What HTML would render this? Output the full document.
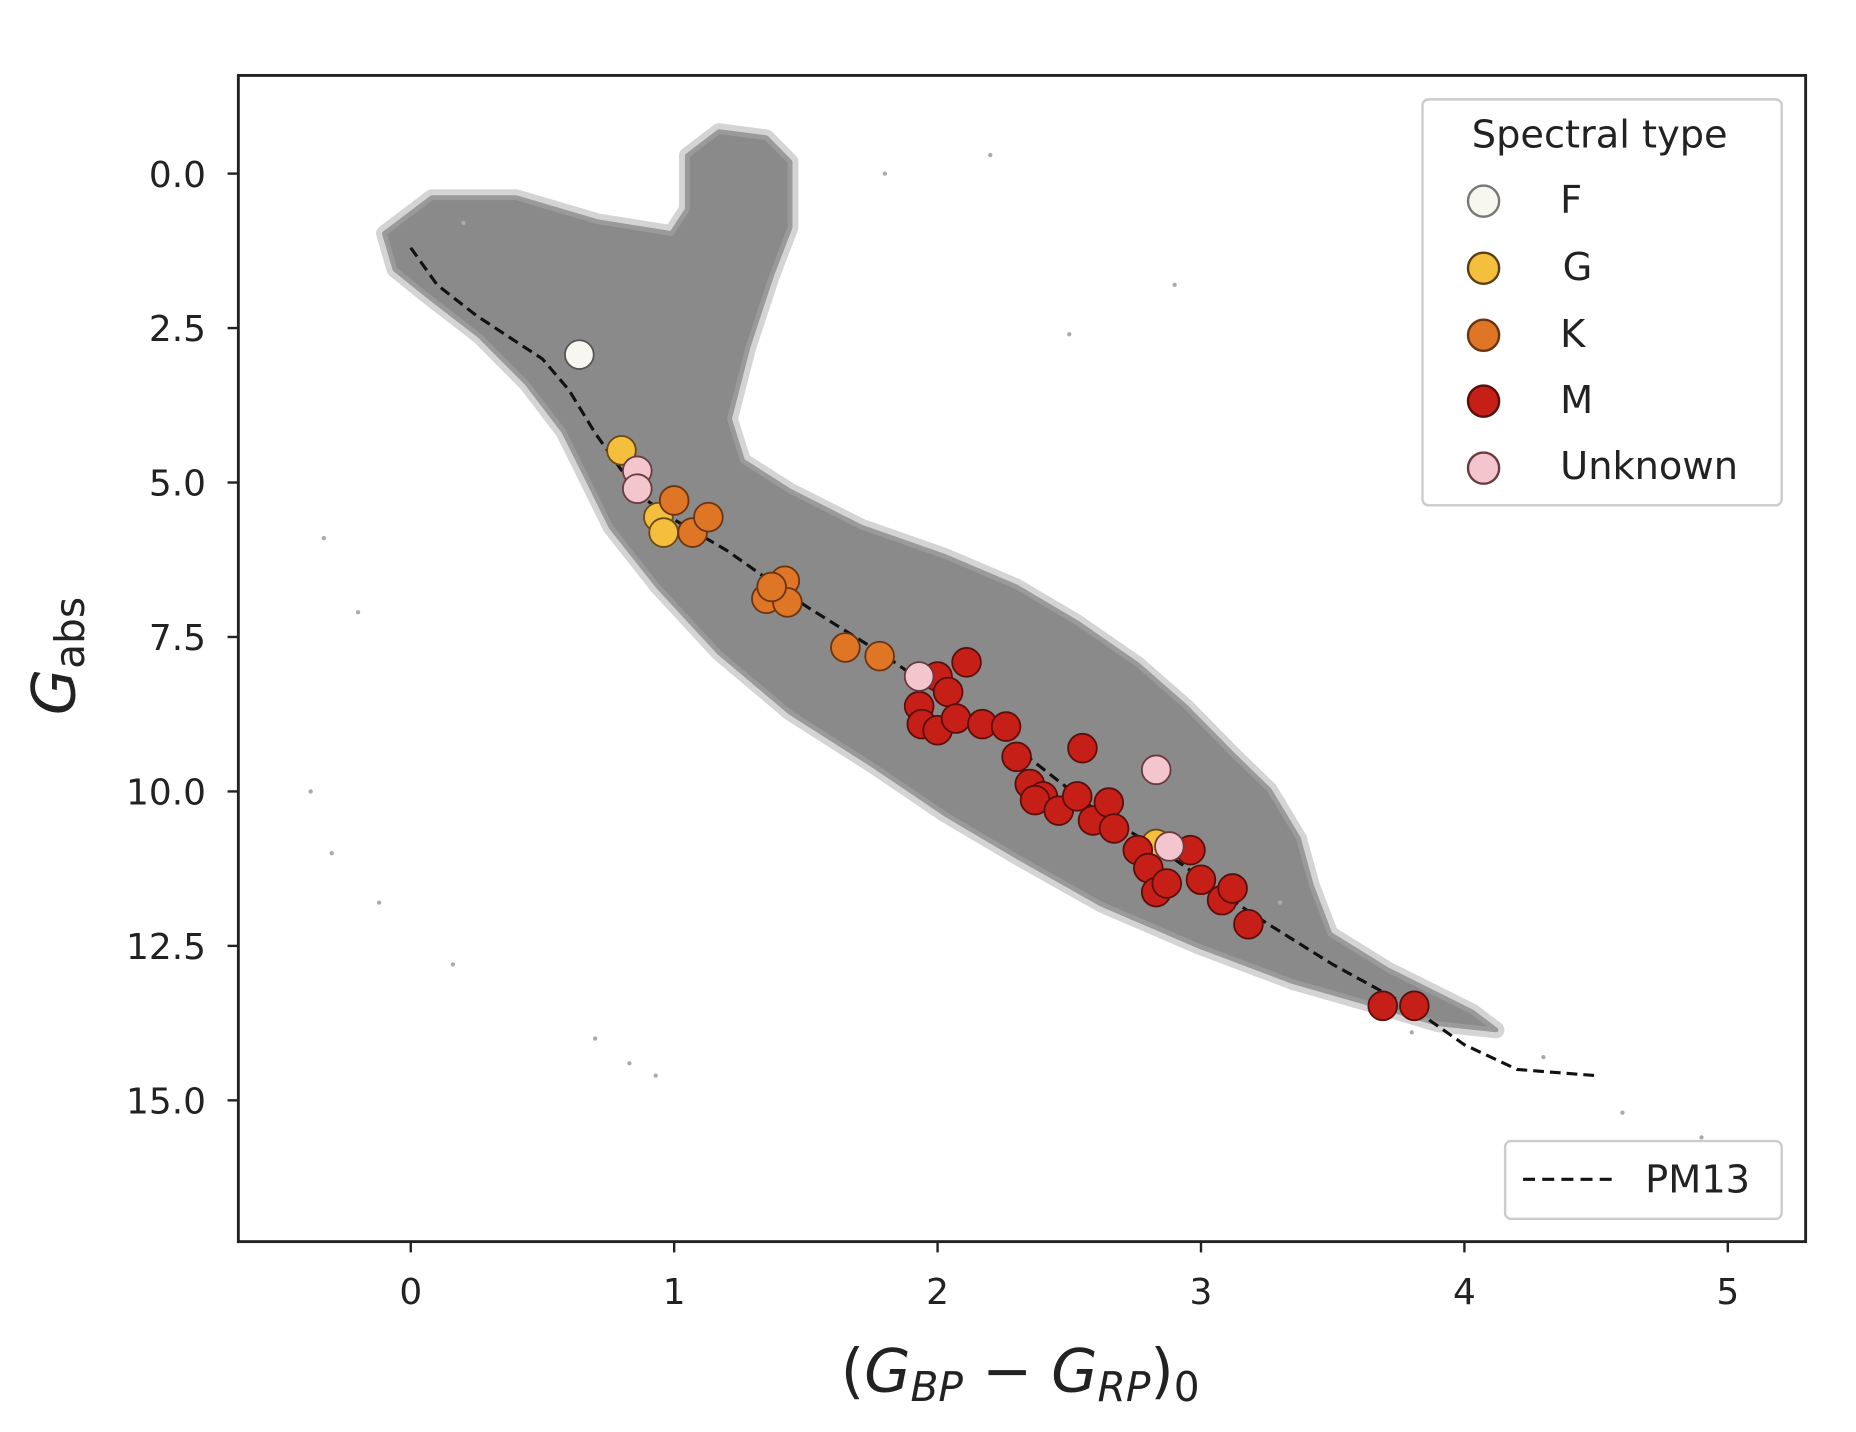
<!DOCTYPE html>
<html><head><meta charset="utf-8">
<style>
html,body{margin:0;padding:0;background:#fff;}
svg{display:block;}
text{font-family:"DejaVu Sans","Liberation Sans",sans-serif;fill:#222;}
</style></head>
<body>
<svg id="chart" width="1856" height="1432" viewBox="0 0 1550 1196" xmlns="http://www.w3.org/2000/svg">
<g id="plot"></g>
</svg>
<script>
// ---- data ----
const xTicks = [0,1,2,3,4,5];
const yTicks = [0.0,2.5,5.0,7.5,10.0,12.5,15.0];
const yTickLabels = ["0.0","2.5","5.0","7.5","10.0","12.5","15.0"];
// gray field star region outline (colour, Gabs)
const fieldColor = [-0.10,0.08,0.40,0.71,0.99,1.05,1.05,1.17,1.35,1.44,1.44,1.37,1.28,1.21,1.26,1.44,1.71,2.03,2.30,2.53,2.76,2.94,3.12,3.26,3.37,3.42,3.49,3.71,4.03,4.12,3.90,3.67,3.35,2.99,2.62,2.30,2.03,1.76,1.44,1.17,0.94,0.76,0.67,0.58,0.44,0.26,0.08,-0.06];
const fieldMag   = [0.97,0.39,0.39,0.78,0.97,0.58,-0.29,-0.68,-0.58,-0.19,0.87,1.65,2.81,3.97,4.65,5.14,5.72,6.20,6.69,7.27,7.95,8.62,9.40,9.98,10.76,11.53,12.31,12.89,13.57,13.86,13.76,13.47,13.08,12.50,11.82,11.05,10.37,9.59,8.72,7.75,6.69,5.72,4.94,4.17,3.39,2.62,2.03,1.55];
const pmColor = [0.0,0.1,0.25,0.5,0.6,0.7,0.8,0.9,1.0,1.2,1.5,1.8,2.0,2.3,2.6,2.9,3.2,3.5,3.8,4.0,4.2,4.5];
const pmMag   = [1.2,1.8,2.3,3.0,3.5,4.2,4.8,5.3,5.6,6.1,7.0,7.8,8.4,9.3,10.3,11.1,12.0,12.8,13.5,14.1,14.5,14.6];
const fColor=[0.64], fMag=[2.93];
const gColor=[0.80,0.94,0.96,2.83], gMag=[4.48,5.56,5.81,10.85];
const kColor=[1.0,1.07,1.13,1.35,1.42,1.43,1.37,1.65,1.78], kMag=[5.29,5.81,5.56,6.88,6.59,6.94,6.69,7.67,7.81];
const mColor=[1.93,1.94,2.0,2.04,2.11,2.0,2.07,2.17,2.26,2.30,2.35,2.40,2.37,2.46,2.55,2.53,2.59,2.65,2.67,2.76,2.80,2.83,2.87,2.96,3.0,3.08,3.12,3.18,3.69,3.81];
const mMag  =[8.62,8.91,8.14,8.39,7.91,9.01,8.82,8.91,8.95,9.44,9.88,10.08,10.14,10.31,9.30,10.08,10.47,10.18,10.60,10.95,11.24,11.63,11.49,10.95,11.43,11.76,11.57,12.15,13.47,13.47];
const uColor=[0.86,0.86,1.93,2.83,2.88], uMag=[4.81,5.10,8.14,9.65,10.89];
const strayColor=[-0.33,-0.2,-0.38,-0.3,-0.12,0.16,0.7,0.83,0.93,4.6,4.9,5.05,4.3,3.3,2.2,1.8,0.2,3.8,2.5,2.9];
const strayMag  =[5.9,7.1,10.0,11.0,11.8,12.8,14.0,14.4,14.6,15.2,15.6,15.9,14.3,11.8,-0.3,0.0,0.8,13.9,2.6,1.8];

// ---- axes ----
const L=199,T=63,R=1508,B=1037;
const X=c=>343+220*c;
const Y=g=>145+51.6*g;
const NS="http://www.w3.org/2000/svg";
const svg=document.getElementById('chart');
const plot=document.getElementById('plot');
function el(tag,attrs,parent){const e=document.createElementNS(NS,tag);for(const k in attrs)e.setAttribute(k,attrs[k]);(parent||svg).appendChild(e);return e;}

// field region
const pts=fieldColor.map((c,i)=>X(c)+','+Y(fieldMag[i])).join(' ');
const halo=el('polygon',{points:pts,fill:'#cfcfcf',stroke:'#d4d4d4','stroke-width':14,'stroke-linejoin':'round'},plot);


const field=el('polygon',{points:pts,fill:'#8a8a8a',stroke:'#9a9a9a','stroke-width':4,'stroke-linejoin':'round'},plot);


strayColor.forEach((c,i)=>{
  const d=el('circle',{cx:X(c),cy:Y(strayMag[i]),r:1.8,fill:'#aaa'},plot);
  
  
});

// PM13 line
const pmPath=el('polyline',{points:pmColor.map((c,i)=>X(c)+','+Y(pmMag[i])).join(' '),fill:'none',stroke:'#111','stroke-width':2.6,'stroke-dasharray':'9,5'},plot);



function series(xs,ys,fill,stroke,name){
  xs.forEach((c,i)=>{
    const p=el('circle',{cx:X(c),cy:Y(ys[i]),r:12,fill:fill,stroke:stroke,'stroke-width':1.5},plot);
    
    
  });
}
series(fColor,fMag,'#f8f7ef','#555','point-f');
series(gColor,gMag,'#f4bf3c','#6a4a10','point-g');
series(kColor,kMag,'#df7626','#6a3410','point-k');
series(mColor,mMag,'#c51f18','#5a0e0a','point-m');
series(uColor,uMag,'#f3c5cd','#6a3a40','point-unknown');

// frame
const frame=el('rect',{x:L,y:T,width:R-L,height:B-T,fill:'none',stroke:'#222','stroke-width':2.4});



xTicks.forEach(v=>{
  const t=el('line',{x1:X(v),x2:X(v),y1:B,y2:B+9,stroke:'#222','stroke-width':2});
  
  
  const l=el('text',{x:X(v),y:B+52,'text-anchor':'middle','font-size':30});
  l.textContent=v;
  
  
});
yTicks.forEach((v,i)=>{
  const t=el('line',{x1:L-9,x2:L,y1:Y(v),y2:Y(v),stroke:'#222','stroke-width':2});
  
  
  const l=el('text',{x:L-27,y:Y(v)+11,'text-anchor':'end','font-size':30});
  l.textContent=yTickLabels[i];
  
  
});
</script>
<svg style="position:absolute;left:0;top:0" width="1856" height="1432" viewBox="0 0 1550 1196" xmlns="http://www.w3.org/2000/svg">
  <text transform="translate(62,548) rotate(-90)" text-anchor="middle" font-size="50"><tspan font-style="italic">G</tspan><tspan font-size="34" dy="8">abs</tspan></text>
  <text x="852" y="1162" text-anchor="middle" font-size="50">(<tspan font-style="italic">G</tspan><tspan font-style="italic" font-size="34" dy="8">BP</tspan><tspan dy="-8"> − </tspan><tspan font-style="italic">G</tspan><tspan font-style="italic" font-size="34" dy="8">RP</tspan><tspan dy="-8">)</tspan><tspan font-size="34" dy="8">0</tspan></text>
  <g>
    <rect x="1188" y="83" width="300" height="339" rx="5" fill="#fff" stroke="#ccc" stroke-width="2"/>
    <text x="1336" y="123" text-anchor="middle" font-size="32">Spectral type</text>
    <circle cx="1239" cy="168" r="13" fill="#f8f7ef" stroke="#777" stroke-width="2"/>
    <text x="1303" y="178" font-size="32">F</text>
    <circle cx="1239" cy="224" r="13" fill="#f4bf3c" stroke="#5a3e10" stroke-width="2"/>
    <text x="1305" y="234" font-size="32">G</text>
    <circle cx="1239" cy="280" r="13" fill="#df7626" stroke="#6a3410" stroke-width="2"/>
    <text x="1303" y="290" font-size="32">K</text>
    <circle cx="1239" cy="335" r="13" fill="#c51f18" stroke="#5a0e0a" stroke-width="2"/>
    <text x="1303" y="345" font-size="32">M</text>
    <circle cx="1239" cy="391" r="13" fill="#f3c5cd" stroke="#6a3a40" stroke-width="2"/>
    <text x="1303" y="400" font-size="32">Unknown</text>
  </g>
  <g>
    <rect x="1257" y="953" width="231" height="65" rx="5" fill="#fff" stroke="#ccc" stroke-width="2"/>
    <line x1="1272" x2="1346" y1="985" y2="985" stroke="#111" stroke-width="2.6" stroke-dasharray="10,6"/>
    <text x="1374" y="996" font-size="32">PM13</text>
  </g>
</svg>
</body></html>
